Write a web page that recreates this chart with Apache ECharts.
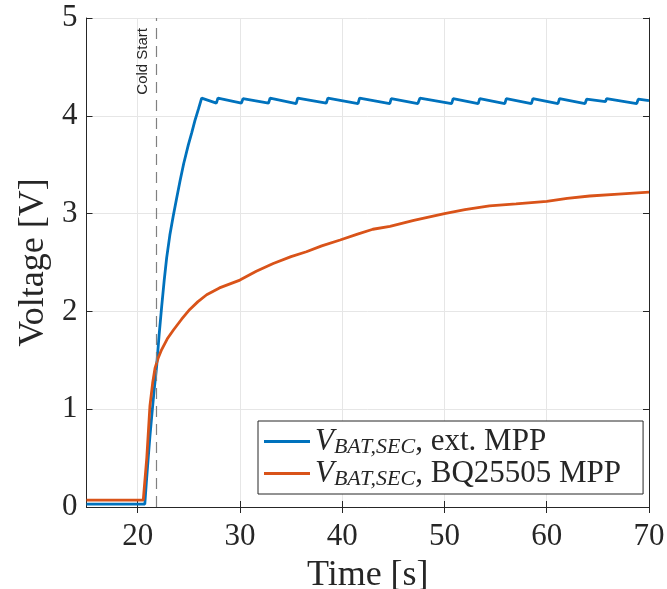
<!DOCTYPE html>
<html>
<head>
<meta charset="utf-8">
<script src="https://cdn.jsdelivr.net/npm/echarts@6/dist/echarts.min.js"></script>
<style>
  html, body { margin: 0; padding: 0; background: #fff; }
  #main { width: 667px; height: 589px; }
</style>
</head>
<body>
<div id="main"></div>
<script>
// time [s] and voltage [V]
var extTime = [15, 20.7, 20.85, 21.04, 21.2, 21.37, 21.6, 21.86, 22.1, 22.35, 22.6, 22.84,
  23.15, 23.49, 23.8, 24.14, 24.5, 24.95, 25.3, 25.6, 25.95, 26.26,
  27.7, 27.85, 30.15, 30.3, 32.8, 32.95, 35.5, 35.65, 38.45, 38.6, 41.55, 41.7,
  44.65, 44.8, 47.4, 47.6, 50.7, 50.85, 53.3, 53.45, 55.9, 56.05, 58.5, 58.65,
  61.1, 61.25, 63.75, 63.9, 65.75, 65.85, 68.8, 68.95, 70];
var extVolt = [0.03, 0.03, 0.25, 0.51, 0.72, 0.92, 1.18, 1.44, 1.76, 2.05, 2.32, 2.55,
  2.78, 2.98, 3.15, 3.33, 3.51, 3.7, 3.83, 3.95, 4.07, 4.18,
  4.13, 4.18, 4.13, 4.175, 4.13, 4.18, 4.125, 4.18, 4.13, 4.18, 4.125, 4.18,
  4.125, 4.175, 4.125, 4.18, 4.125, 4.175, 4.125, 4.175, 4.125, 4.175, 4.125, 4.175,
  4.125, 4.175, 4.125, 4.17, 4.145, 4.175, 4.125, 4.17, 4.155];

var bqTime = [15, 20.55, 20.9, 21.2, 21.47, 21.7, 22.0, 22.35, 22.9, 23.5, 24.3, 25.1,
  25.9, 26.75, 28, 30, 31.6, 33.26, 35, 36.5, 38, 39.8, 41.5, 43, 44.67, 47,
  50, 52, 54.4, 57, 60, 62, 64.2, 67, 70];
var bqVolt = [0.07, 0.07, 0.51, 1.03, 1.27, 1.42, 1.52, 1.61, 1.72, 1.81, 1.92, 2.02,
  2.10, 2.17, 2.24, 2.32, 2.41, 2.49, 2.56, 2.61, 2.67, 2.73, 2.79, 2.84, 2.87, 2.93,
  3.0, 3.04, 3.08, 3.10, 3.125, 3.155, 3.18, 3.20, 3.22];

var coldStartT = 21.8;
var xTicks = [20, 30, 40, 50, 60, 70];
var legendNames = ['ext. MPP', 'BQ25505 MPP'];

function pairs(t, v) {
  return t.map(function(x, i) { return [x, v[i]]; });
}

var serif = 'Liberation Serif';
var axisCol = '#262626';

var chart = echarts.init(document.getElementById('main'));

var option = {
  animation: false,
  grid: { left: 86.5, right: 18, top: 18, bottom: 82, outerBoundsMode: 'none' },
  legend: {
    orient: 'vertical',
    left: 258,
    top: 421,
    padding: [5, 22, 4, 6],
    itemGap: 0,
    itemWidth: 46,
    itemHeight: 3,
    icon: 'rect',
    borderColor: axisCol,
    borderWidth: 1,
    borderRadius: 0,
    backgroundColor: '#fff',
    data: legendNames,
    formatter: function(name) {
      return '{v|V}{s|BAT,SEC}{t|, ' + name + '}';
    },
    textStyle: {
      fontFamily: serif,
      color: axisCol,
      rich: {
        v: { fontFamily: serif, fontStyle: 'italic', fontSize: 31, lineHeight: 33 },
        s: { fontFamily: serif, fontStyle: 'italic', fontSize: 22, lineHeight: 33, verticalAlign: 'bottom', padding: [8, 0, 0, 0] },
        t: { fontFamily: serif, fontSize: 31, lineHeight: 33 }
      }
    }
  },
  xAxis: [{
    type: 'value', min: 15, max: 70, position: 'bottom',
    name: 'Time [s]', nameLocation: 'middle', nameGap: 51,
    nameTextStyle: { fontFamily: serif, fontSize: 36, color: axisCol },
    axisLine: { lineStyle: { color: axisCol } },
    axisTick: { inside: true, length: 6, customValues: xTicks, lineStyle: { color: axisCol } },
    axisLabel: { customValues: xTicks, fontFamily: serif, fontSize: 31, color: axisCol, margin: 14 },
    splitLine: { show: true, lineStyle: { color: '#e6e6e6' } }
  }, {
    type: 'value', min: 15, max: 70, position: 'top',
    axisLine: { lineStyle: { color: axisCol } },
    axisTick: { inside: true, length: 6, customValues: xTicks, lineStyle: { color: axisCol } },
    axisLabel: { show: false },
    splitLine: { show: false }
  }],
  yAxis: [{
    type: 'value', min: 0, max: 5, interval: 1, position: 'left',
    name: 'Voltage [V]', nameLocation: 'middle', nameGap: 34,
    nameTextStyle: { fontFamily: serif, fontSize: 36, color: axisCol },
    axisLine: { show: true, lineStyle: { color: axisCol } },
    axisTick: { show: true, inside: true, length: 6, lineStyle: { color: axisCol } },
    axisLabel: { fontFamily: serif, fontSize: 31, color: axisCol, margin: 9 },
    splitLine: { show: true, lineStyle: { color: '#e6e6e6' } }
  }, {
    type: 'value', min: 0, max: 5, interval: 1, position: 'right',
    axisLine: { show: true, lineStyle: { color: axisCol } },
    axisTick: { show: true, inside: true, length: 6, lineStyle: { color: axisCol } },
    axisLabel: { show: false },
    splitLine: { show: false }
  }],
  series: [{
    name: legendNames[0],
    type: 'line',
    data: pairs(extTime, extVolt),
    showSymbol: false,
    lineStyle: { color: '#0072BD', width: 2.8 },
    itemStyle: { color: '#0072BD' },
    markLine: {
      silent: true,
      symbol: 'none',
      lineStyle: { color: '#808080', type: [11, 7], width: 1.2 },
      label: {
        show: true,
        formatter: 'Cold Start',
        position: 'insideEndTop',
        fontFamily: 'Liberation Sans',
        fontSize: 15,
        color: axisCol,
        distance: [10, 6]
      },
      data: [[{ coord: [coldStartT, 0] }, { coord: [coldStartT, 5] }]]
    }
  }, {
    name: legendNames[1],
    type: 'line',
    data: pairs(bqTime, bqVolt),
    showSymbol: false,
    lineStyle: { color: '#D95319', width: 2.8 },
    itemStyle: { color: '#D95319' }
  }]
};

chart.setOption(option);
</script>
</body>
</html>
